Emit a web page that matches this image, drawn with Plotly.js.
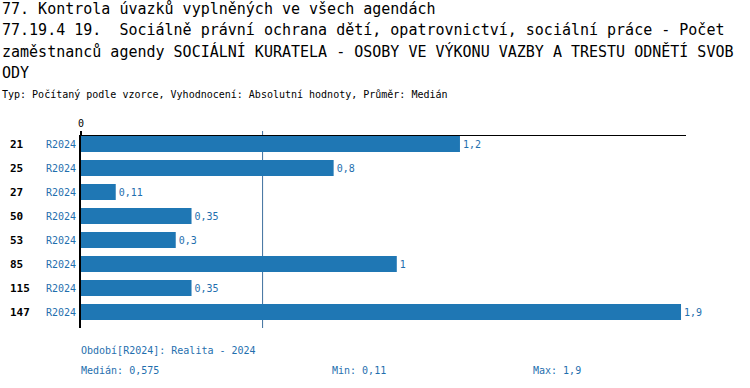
<!DOCTYPE html>
<html><head><meta charset="utf-8">
<script src="https://cdn.plot.ly/plotly-3.0.1.min.js"></script>
<style>html,body{margin:0;padding:0;background:#fff}#c{width:750px;height:388px}</style>
</head><body><div id="c"></div>
<script>
const titleLines = [
  "77. Kontrola úvazků vyplněných ve všech agendách",
  "77.19.4 19.  Sociálně právní ochrana dětí, opatrovnictví, sociální práce - Počet",
  "zaměstnanců agendy SOCIÁLNÍ KURATELA - OSOBY VE VÝKONU VAZBY A TRESTU ODNĚTÍ SVOB",
  "ODY"
];
const subtitle = "Typ: Počítaný podle vzorce, Vyhodnocení: Absolutní hodnoty, Průměr: Medián";
const categories = ["21","25","27","50","53","85","115","147"];
const period = "R2024";
const values = [1.2, 0.8, 0.11, 0.35, 0.3, 1, 0.35, 1.9];
const median = 0.575, minVal = 0.11, maxVal = 1.9;
const periodNote = "Období[R2024]: Realita - 2024";

const fmt = v => String(v).replace('.', ',');
const BLUE = '#1f77b4', TXT = '#1f6fae';
const MONO = 'DejaVu Sans Mono, monospace';

// pixel -> paper helpers (plot area x 81..686, y 136..328)
const L = 81, R = 686, T = 136, B = 328;
const px = x => (x - L) / (R - L);
const py = y => (B - y) / (B - T);
const idx = categories.map((c, i) => i);

const ann = [];
titleLines.forEach((t, i) => ann.push({text: t, xref:'paper', yref:'paper', x: px(0), y: py(9 + i*21.3),
  xanchor:'left', yanchor:'middle', showarrow:false, font:{family:MONO, size:15, color:'#000'}}));
ann.push({text: subtitle, xref:'paper', yref:'paper', x: px(0), y: py(95), xanchor:'left', yanchor:'middle',
  showarrow:false, font:{family:MONO, size:10, color:'#000'}});
categories.forEach((c, i) => {
  ann.push({text:'<b>'+c+'</b>', xref:'paper', yref:'y', x: px(8), y: i, xanchor:'left', yanchor:'middle',
    showarrow:false, font:{family:MONO, size:11, color:'#000'}});
  ann.push({text: period, xref:'paper', yref:'y', x: px(78), y: i, xanchor:'right', yanchor:'middle',
    showarrow:false, font:{family:MONO, size:10, color:TXT}});
});
ann.push({text: periodNote, xref:'paper', yref:'paper', x: px(79), y: py(350), xanchor:'left', yanchor:'middle',
  showarrow:false, font:{family:MONO, size:10, color:TXT}});
ann.push({text: 'Medián: ' + fmt(median), xref:'paper', yref:'paper', x: px(79), y: py(370), xanchor:'left', yanchor:'middle',
  showarrow:false, font:{family:MONO, size:10, color:TXT}});
ann.push({text: 'Min: ' + fmt(minVal), xref:'paper', yref:'paper', x: px(330), y: py(370), xanchor:'left', yanchor:'middle',
  showarrow:false, font:{family:MONO, size:10, color:TXT}});
ann.push({text: 'Max: ' + fmt(maxVal), xref:'paper', yref:'paper', x: px(531), y: py(370), xanchor:'left', yanchor:'middle',
  showarrow:false, font:{family:MONO, size:10, color:TXT}});

const trace = {
  type:'bar', orientation:'h', y: idx, x: values,
  marker:{color: BLUE}, width: 0.66,
  text: values.map(fmt), textposition:'outside', cliponaxis:false,
  textfont:{family:MONO, size:10, color:TXT}, hoverinfo:'none'
};

const layout = {
  width:750, height:388, margin:{l:L, r:750-R, t:T, b:388-B, pad:0},
  paper_bgcolor:'#fff', plot_bgcolor:'#fff', showlegend:false,
  xaxis:{side:'top', range:[0, (R-L)/315.8], tickvals:[0], ticktext:['0'], showgrid:false, zeroline:false,
    showline:true, linecolor:'#000', linewidth:1, ticks:'outside', ticklen:4, tickwidth:2, tickcolor:'#000',
    tickfont:{family:MONO, size:10, color:'#000'}, fixedrange:true},
  yaxis:{type:'linear', range:[categories.length - 1 + 2/3, -1/3], showticklabels:false, showgrid:false, zeroline:false,
    showline:true, linecolor:'#000', linewidth:2, ticks:'', fixedrange:true},
  shapes:[{type:'line', xref:'x', yref:'paper', x0:median, x1:median, y0:0, y1:py(131),
    line:{color:'#3d6f9e', width:1}, layer:'below'}],
  annotations: ann
};
Plotly.newPlot('c', [trace], layout, {staticPlot:true, displayModeBar:false});
</script></body></html>
